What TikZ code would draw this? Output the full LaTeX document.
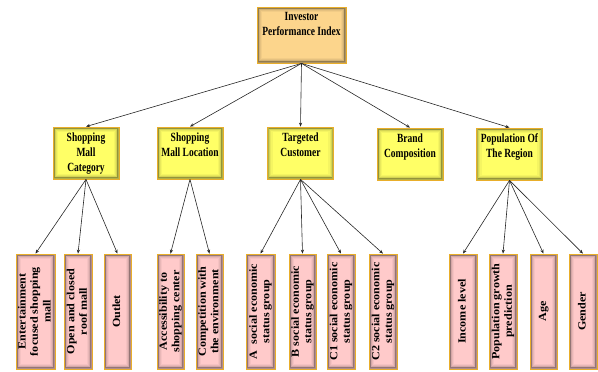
\documentclass[tikz,border=0pt]{standalone}
\usepackage{fontspec}
\setmainfont{Liberation Serif}
\newfontfamily\headfont[FakeStretch=0.76]{Liberation Serif}
\newfontfamily\leaffont[FakeStretch=1.1]{Liberation Serif}
\usetikzlibrary{arrows.meta}

\definecolor{edgegold}{HTML}{E9AE2A}
\definecolor{rootfill}{HTML}{FCD58C}
\definecolor{midfill}{HTML}{FFFF66}
\definecolor{leaffill}{HTML}{FFCACA}
\definecolor{wire}{HTML}{262626}

% vertical multi-line label for the bottom row
\newcommand\vlabel[1]{\rotatebox{90}{\begin{tabular}{@{}c@{}}#1\end{tabular}}}

\tikzset{
  glowbox/.style={draw=edgegold, line width=0.8pt, inner sep=0pt,
    path picture={
      \foreach \d/\o in {0.9/0.30,2.1/0.17,3.3/0.09,4.5/0.04}{
        \draw[black, opacity=\o, line width=1.3pt]
          ([xshift=\d pt,yshift=-\d pt]path picture bounding box.north west)
          rectangle
          ([xshift=-\d pt,yshift=\d pt]path picture bounding box.south east);
      }}},
  rootbox/.style={glowbox, fill=rootfill, minimum width=89pt, minimum height=56pt,
    font=\headfont\bfseries\fontsize{12.5}{15}\selectfont},
  midbox/.style={glowbox, fill=midfill, minimum width=66pt, minimum height=52pt,
    font=\headfont\bfseries\fontsize{12.5}{15}\selectfont},
  leafbox/.style={glowbox, fill=leaffill, minimum height=115pt,
    font=\leaffont\bfseries\fontsize{11}{12.5}\selectfont},
  conn/.style={draw=wire, line width=0.6pt, -{Stealth[length=4pt,width=3.2pt]}}
}

\begin{document}
\begin{tikzpicture}[x=1pt,y=-1pt]
\useasboundingbox (0,0) rectangle (598,372);

% top level
\node[rootbox] (root) at (301.5,35) {\parbox[c][46pt][t]{86pt}{\centering Investor\\Performance Index}};

% second level
\node[midbox] (cat)   at (86,153)    {\parbox[c][41pt][t]{62pt}{\centering Shopping\\Mall\\Category}};
\node[midbox] (loc)   at (190,153)   {\parbox[c][41pt][t]{62pt}{\centering Shopping\\Mall Location}};
\node[midbox] (tgt)   at (300.5,153) {\parbox[c][41pt][t]{62pt}{\centering Targeted\\Customer}};
\node[midbox] (brand) at (410,154)   {\parbox[c][41pt][t]{62pt}{\centering Brand\\Composition}};
\node[midbox] (pop)   at (509.5,154) {\parbox[c][41pt][t]{62pt}{\centering Population Of\\The Region}};

% bottom row
\node[leafbox, minimum width=39pt] (c1) at (35.5,311.5)  {\vlabel{Entertainment\\focused shopping\\mall}};
\node[leafbox, minimum width=28pt] (c2) at (78,311.5)    {\vlabel{Open and closed\\roof mall}};
\node[leafbox, minimum width=27pt] (c3) at (117.5,311.5) {\vlabel{Outlet}};

\node[leafbox, minimum width=27pt] (l1) at (170.5,311.5) {\vlabel{Accessibility to\\shopping center}};
\node[leafbox, minimum width=27pt] (l2) at (209.5,311.5) {\vlabel{Competition with\\the environment}};

\node[leafbox, minimum width=29pt] (t1) at (260.5,311.5) {\vlabel{A\ \ social economic\\status group}};
\node[leafbox, minimum width=27pt] (t2) at (302.5,311.5) {\vlabel{B social economic\\status group}};
\node[leafbox, minimum width=28pt] (t3) at (341,311.5)   {\vlabel{C1 social economic\\status group}};
\node[leafbox, minimum width=28pt] (t4) at (383,311.5)   {\vlabel{C2 social economic\\status group}};

\node[leafbox, minimum width=28pt] (p1) at (463,311.5)   {\vlabel{Income level}};
\node[leafbox, minimum width=28pt] (p2) at (503,311.5)   {\vlabel{Population growth\\prediction}};
\node[leafbox, minimum width=27pt] (p3) at (543.5,311.5) {\vlabel{Age}};
\node[leafbox, minimum width=28pt] (p4) at (583,311.5)   {\vlabel{Gender}};

% connectors
\foreach \n in {cat,loc,tgt,brand,pop} \draw[conn] (root.south) -- (\n.north);
\foreach \n in {c1,c2,c3} \draw[conn] (cat.south) -- (\n.north);
\foreach \n in {l1,l2} \draw[conn] (loc.south) -- (\n.north);
\foreach \n in {t1,t2,t3,t4} \draw[conn] (tgt.south) -- (\n.north);
\foreach \n in {p1,p2,p3,p4} \draw[conn] (pop.south) -- (\n.north);
\end{tikzpicture}
\end{document}
